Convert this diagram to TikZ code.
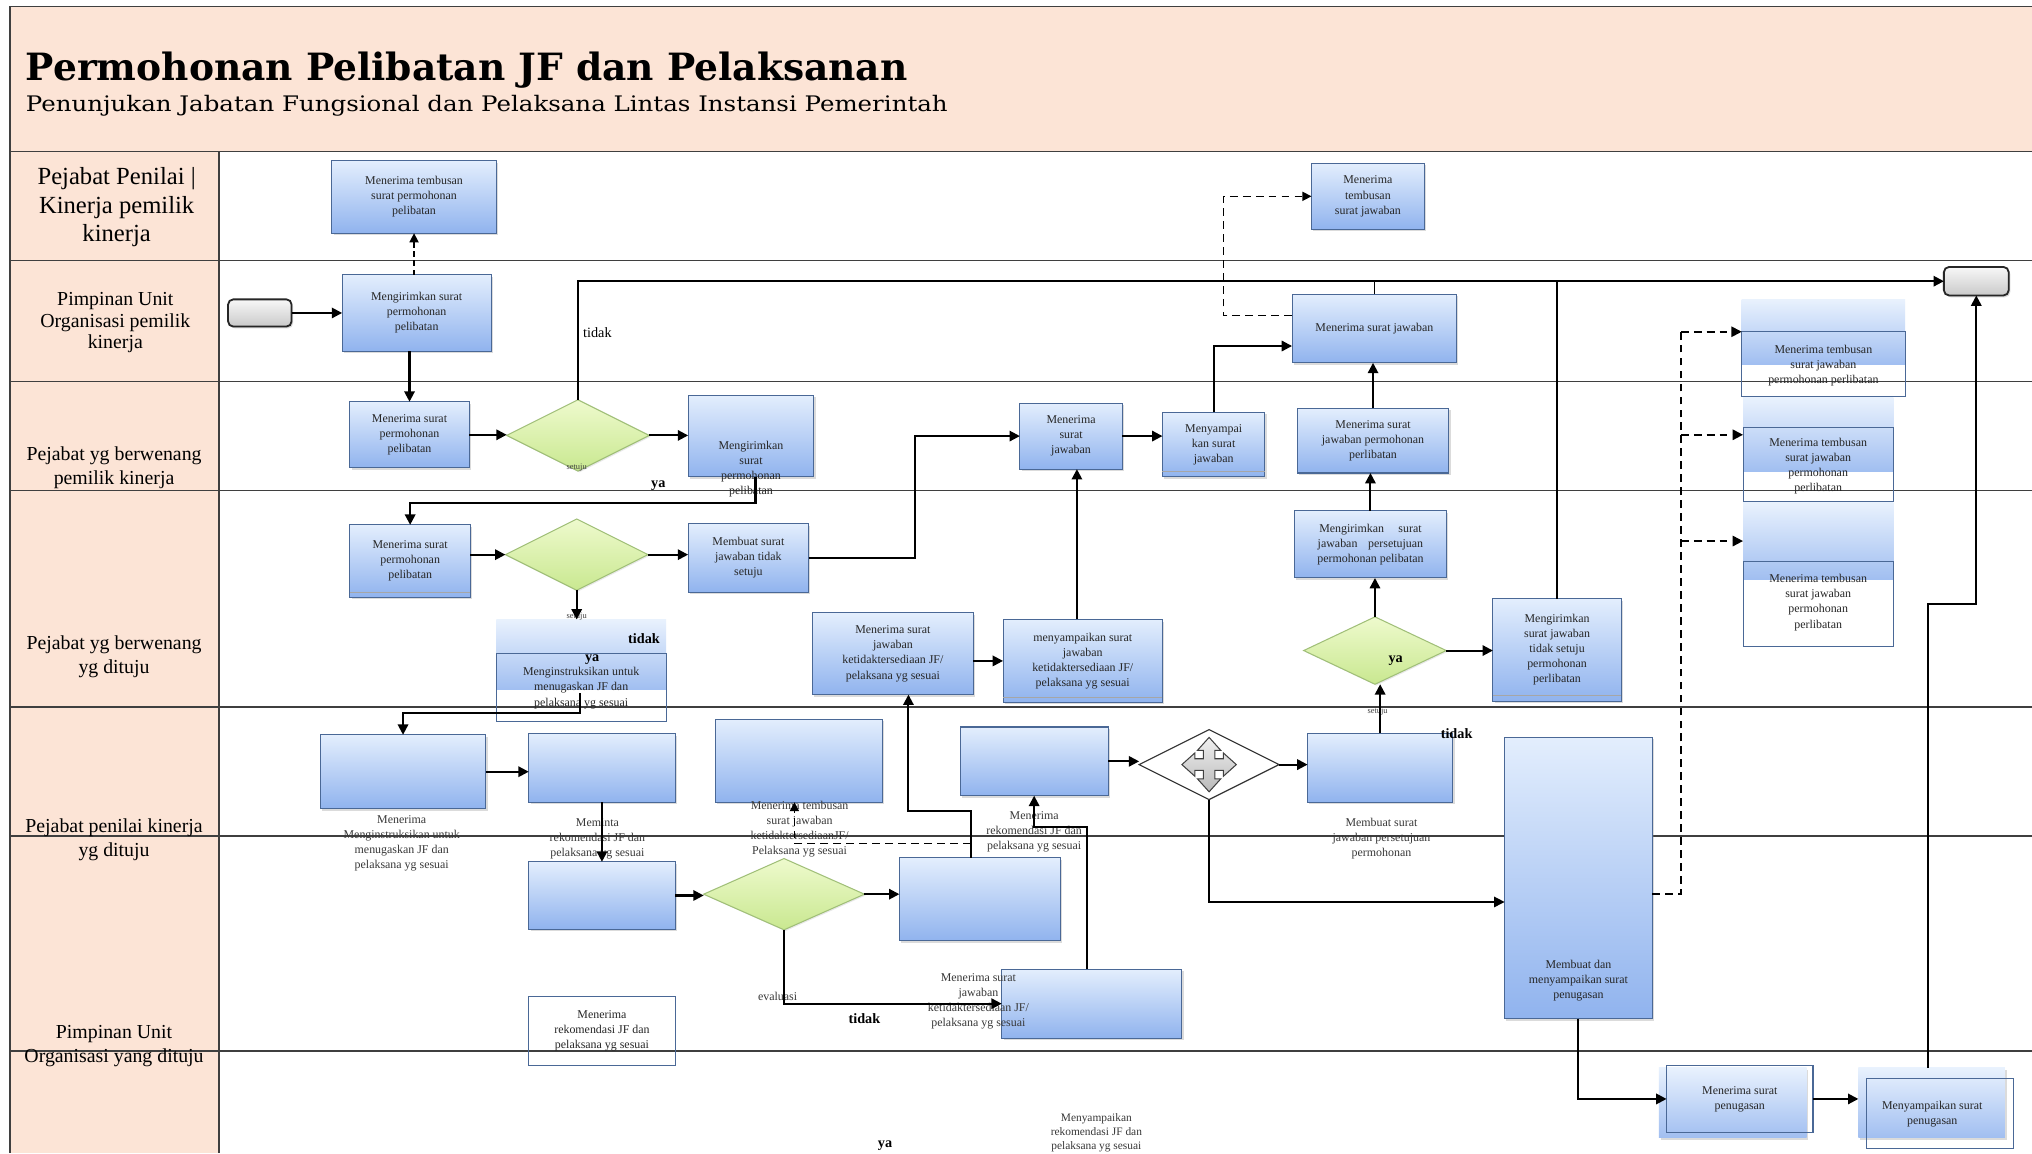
\documentclass[tikz,border=0pt]{standalone}
\usepackage{fontspec}
\setmainfont{Liberation Serif}
\newfontfamily\headfont{DejaVu Serif}
\usetikzlibrary{arrows.meta,shadows,shapes.geometric}

\definecolor{peach}{HTML}{FCE4D6}
\definecolor{rule}{HTML}{3F3F3F}
\definecolor{boxtop}{HTML}{E3EEFD}
\definecolor{boxbot}{HTML}{90B3EE}
\definecolor{boxedge}{HTML}{4A6896}
\definecolor{dectop}{HTML}{EEFACD}
\definecolor{decbot}{HTML}{C9E890}
\definecolor{decedge}{HTML}{A0BF78}
\definecolor{ink}{HTML}{262626}

\tikzset{
  every node/.style={inner sep=0pt, outer sep=0pt, text=ink},
  sz/.style 2 args={minimum width=#1, minimum height=#2},
  txt/.style={font=\fontsize{9.2}{11.6}\selectfont, align=center},
  task/.style={txt, draw=boxedge, line width=0.8pt, top color=boxtop, bottom color=boxbot,
    drop shadow={shadow xshift=1.4pt, shadow yshift=-1.6pt, opacity=0.28}},
  glow/.style={top color=boxtop!80!white, bottom color=boxbot!85!white},
  openbox/.style={draw=boxedge, line width=0.8pt},
  decision/.style={diamond, draw=decedge, line width=0.8pt, top color=dectop, bottom color=decbot,
    drop shadow={shadow xshift=1pt, shadow yshift=-1pt, opacity=0.18}},
  gateway/.style={diamond, draw=black!80, line width=0.9pt, fill=white},
  term/.style={draw=black!85, line width=1.4pt, rounded corners=4pt, top color=gray!6, bottom color=gray!42,
    drop shadow={shadow xshift=1.2pt, shadow yshift=-1.4pt, opacity=0.3}},
  lane/.style={font=\fontsize{15.3}{18.5}\selectfont, align=center, text=black},
  note/.style={font=\fontsize{9.2}{11.6}\selectfont, align=center, text=black!78},
  tag/.style={font=\fontsize{11}{12}\selectfont\bfseries, text=black},
  smalltag/.style={font=\fontsize{6.5}{7}\selectfont, text=black!75},
  flow/.style={line width=1.6pt, draw=black, -{Triangle[length=8pt,width=8pt]}},
  link/.style={line width=1.1pt, draw=black},
  cc/.style={line width=1.4pt, draw=black, dash pattern=on 6pt off 4pt},
  ccarrow/.style={cc, -{Triangle[length=8pt,width=8pt]}},
}

\begin{document}
\begin{tikzpicture}[x=1pt,y=-1pt]
\useasboundingbox (0,0) rectangle (1568,890);
\clip (0,0) rectangle (1568,890);
\fill[white] (0,0) rectangle (1568,890);

% header band, lane label column and lane separators
\fill[peach] (8,5) rectangle (1568,117);
\fill[peach] (8,117) rectangle (169,890);
\draw[rule, line width=1.4pt] (8,5) -- (1568,5);
\draw[rule, line width=1.4pt] (8,5) -- (8,890);
\draw[rule, line width=1.2pt] (8,117) -- (1568,117);
\draw[rule, line width=1.2pt] (169,117) -- (169,890);
\foreach \y in {201,294.5,378.5,545.5,645,811}
  \draw[rule, line width=1.1pt] (8,\y) -- (1568,\y);

\node[anchor=base west, font=\headfont\bfseries\fontsize{29}{32}\selectfont, text=black] (title) at (20,62)
  {Permohonan Pelibatan JF dan Pelaksanan};
\node[anchor=base west, font=\headfont\fontsize{16.5}{18}\selectfont, text=black] (subtitle) at (20,86)
  {\scalebox{1.145}[1]{Penunjukan Jabatan Fungsional dan Pelaksana Lintas Instansi Pemerintah}};

% lane titles
\node[lane, font=\fontsize{19}{22}\selectfont] (lane1) at (90,160) {Pejabat Penilai |\\Kinerja pemilik\\kinerja};
\node[lane, font=\fontsize{15.3}{16.8}\selectfont] (lane2) at (89,249) {Pimpinan Unit\\Organisasi pemilik\\kinerja};
\node[lane] (lane3) at (88,361) {Pejabat yg berwenang\\pemilik kinerja};
\node[lane] (lane4) at (88,507) {Pejabat yg berwenang\\yg dituju};
\node[lane] (lane5) at (88,648) {Pejabat penilai kinerja\\yg dituju};
\node[lane] (lane6) at (88,807) {Pimpinan Unit\\Organisasi yang dituju};

% lane 1
\node[task, sz={127pt}{56pt}] (n1) at (319.5,152) {Menerima tembusan\\surat permohonan\\pelibatan};
\node[task, sz={87pt}{51pt}] (n2) at (1055.5,151.5) {Menerima\\tembusan\\surat jawaban};

% lane 2
\node[term, sz={49pt}{21pt}] (start) at (200.5,241.5) {};
\node[task, sz={115pt}{59pt}] (n3) at (321.5,241.5) {Mengirimkan surat\\permohonan\\pelibatan};
\node[task, sz={127pt}{53pt}] (n4) at (1060.5,253.5) {Menerima surat jawaban};
\node[term, sz={50pt}{22pt}] (stop) at (1525,217) {};

% lane 3
\node[task, sz={92pt}{51pt}] (n5) at (316,335.5) {Menerima surat\\permohonan\\pelibatan};
\node[decision, sz={110pt}{55pt}] (d1) at (446,336) {};
\node[task, sz={97pt}{63pt}] (n6) at (579.5,336.5) {};
\node[txt] (n6t) at (579.5,362) {Mengirimkan\\surat\\permohonan\\pelibatan};
\node[task, sz={79pt}{51pt}] (n7) at (826.5,336.5) {Menerima\\surat\\jawaban};
\node[task, sz={79pt}{50pt}] (n8) at (936.5,343) {Menyampai\\kan surat\\jawaban};
\node[task, sz={117pt}{50pt}] (n9) at (1059.5,340) {Menerima surat\\jawaban permohonan\\perlibatan};

% lane 4
\node[task, sz={93pt}{56pt}] (n10) at (316.5,433) {Menerima surat\\permohonan\\pelibatan};
\node[decision, sz={110pt}{55pt}] (d2) at (445,428) {};
\node[task, sz={93pt}{53pt}] (n11) at (577.5,430.5) {Membuat surat\\jawaban tidak\\setuju};
\node[glow, sz={131pt}{54pt}] (n14g) at (448.5,505) {};
\node[openbox, sz={131pt}{53pt}] (n14) at (448.5,530.5) {};
\node[txt] (n14t) at (448.5,531) {Menginstruksikan untuk\\menugaskan JF dan\\pelaksana yg sesuai};
\node[task, sz={124pt}{63pt}] (n18) at (689,504.5) {Menerima surat\\jawaban\\ketidaktersediaan JF/\\pelaksana yg sesuai};
\node[task, sz={123pt}{64pt}] (n13) at (835.5,510) {menyampaikan surat\\jawaban\\ketidaktersediaan JF/\\pelaksana yg sesuai};
\node[task, sz={117pt}{52pt}] (n16) at (1057.5,420) {Mengirimkan\hspace{1.2em}surat\\jawaban\hspace{0.9em}persetujuan\\permohonan pelibatan};
\node[decision, sz={110pt}{52pt}] (d3) at (1061,502) {};
\node[task, sz={99pt}{79pt}] (n12) at (1201.5,501.5) {Mengirimkan\\surat jawaban\\tidak setuju\\permohonan\\perlibatan};

% copies of the reply, right side
\node[glow, sz={126pt}{50pt}] (r1g) at (1407,256) {};
\node[openbox, sz={126pt}{50pt}] (r1) at (1407,281) {};
\node[txt] (r1t) at (1407,282) {Menerima tembusan\\surat jawaban\\permohonan perlibatan};
\node[glow, sz={116pt}{57pt}] (r2g) at (1403,335.5) {};
\node[openbox, sz={116pt}{57pt}] (r2) at (1403,358.5) {};
\node[txt] (r2t) at (1403,360) {Menerima tembusan\\surat jawaban\\permohonan\\perlibatan};
\node[glow, sz={116pt}{59pt}] (r3g) at (1403,417.5) {};
\node[openbox, sz={116pt}{66pt}] (r3) at (1403,466) {};
\node[txt] (r3t) at (1403,465) {Menerima tembusan\\surat jawaban\\permohonan\\perlibatan};

% lane 5
\node[task, sz={128pt}{57pt}] (n15) at (311,595.5) {};
\node[note] (n15t) at (310,650.5) {Menerima\\Menginstruksikan untuk\\menugaskan JF dan\\pelaksana yg sesuai};
\node[task, sz={113pt}{53pt}] (n19) at (464.5,592.5) {};
\node[note] (n19t) at (461,647) {Meminta\\rekomendasi JF dan\\pelaksana yg sesuai};
\node[task, sz={129pt}{64pt}] (n23) at (616.5,587) {};
\node[note] (n23t) at (617,640) {Menerima tembusan\\surat jawaban\\ketidaktersediaanJF/\\Pelaksana yg sesuai};
\node[task, sz={114pt}{53pt}] (n24) at (798,587.5) {};
\node[note] (n24t) at (798,642) {Menerima\\rekomendasi JF dan\\pelaksana yg sesuai};
\node[gateway, sz={108pt}{54pt}] (gw) at (933,590) {};
\node[task, sz={112pt}{53pt}] (n17) at (1065,592.5) {};
\node[note] (n17t) at (1066,647) {Membuat surat\\jawaban persetujuan\\permohonan};
\node[task, sz={114pt}{217pt}] (n26) at (1218,677.5) {};
\node[txt] (n26t) at (1218,757) {Membuat dan\\menyampaikan surat\\penugasan};

% gateway marker
\draw[draw=black!75, line width=0.8pt, top color=gray!12, bottom color=gray!55, shift={(gw.center)}]
  (4.5,4.5) -- (4.5,11) -- (9,11) -- (0,21) -- (-9,11) -- (-4.5,11) -- (-4.5,4.5) -- (-11,4.5)
  -- (-11,9) -- (-21,0) -- (-11,-9) -- (-11,-4.5) -- (-4.5,-4.5) -- (-4.5,-11) -- (-9,-11)
  -- (0,-21) -- (9,-11) -- (4.5,-11) -- (4.5,-4.5) -- (11,-4.5) -- (11,-9) -- (21,0) -- (11,9)
  -- (11,4.5) -- cycle;

% lane 6
\node[task, sz={113pt}{52pt}] (n20) at (464.5,691) {};
\node[decision, sz={124pt}{55pt}] (d4) at (605,690) {};
\node[task, sz={124pt}{64pt}] (n22) at (756,694) {};
\node[task, sz={139pt}{53pt}] (n25) at (842.5,774.5) {};
\node[note] (n25t) at (755,773) {Menerima surat\\jawaban\\ketidaktersediaan JF/\\pelaksana yg sesuai};
\node[openbox, txt, sz={113pt}{53pt}] (n21) at (464.5,795.5) {Menerima\\rekomendasi JF dan\\pelaksana yg sesuai};

% lane 7
\node[glow, sz={114pt}{54pt}, drop shadow={shadow xshift=1.4pt, shadow yshift=-1.6pt, opacity=0.28}] (n27g) at (1337,851) {};
\node[openbox, txt, sz={113pt}{52pt}] (n27) at (1342.5,848) {Menerima surat\\penugasan};
\node[glow, sz={113pt}{54pt}, drop shadow={shadow xshift=1.4pt, shadow yshift=-1.6pt, opacity=0.28}] (n28g) at (1490.5,851) {};
\node[openbox, sz={114pt}{54pt}] (n28) at (1497,859) {};
\node[txt] (n28t) at (1491,860) {Menyampaikan surat\\penugasan};
\node[note, font=\fontsize{8.8}{10.8}\selectfont] (n29t) at (846,874) {Menyampaikan\\rekomendasi JF dan\\pelaksana yg sesuai};

% double bottom edges
\foreach \b in {n8,n10,n12,n13}
  \draw[gray!70, line width=0.8pt] ([yshift=4pt]\b.south west) -- ([yshift=4pt]\b.south east);

% branch labels
\node[font=\fontsize{11}{12}\selectfont, text=black] (t1) at (461,257) {tidak};
\node[tag] (t2) at (508,375) {ya};
\node[smalltag] (s1) at (445,361) {setuju};
\node[smalltag] (s2) at (445,476) {setuju};
\node[tag] (t3) at (497,493) {tidak};
\node[tag] (t4) at (457,509) {ya};
\node[tag] (t5) at (1077,510) {ya};
\node[smalltag] (s3) at (1063,549) {setuju};
\node[tag] (t6) at (1124,566) {tidak};
\node[note] (s4) at (600,769) {evaluasi};
\node[tag] (t7) at (667,786) {tidak};
\node[tag] (t8) at (683,884) {ya};

% routing points
\coordinate (xa) at (944,0);
\coordinate (xb) at (706,0);
\coordinate (xd) at (1297,0);
\coordinate (ya) at (0,388);
\coordinate (yb) at (0,550);
\coordinate (yc) at (0,626);
\coordinate (yd) at (0,638);
\coordinate (ye) at (0,466);
\coordinate (k1) at ([xshift=12pt]n18.south);

% connectors
\draw[flow] (start.east) -- (n3.west);
\draw[cc, line width=1.2pt, dash pattern=on 4pt off 3pt, -{Triangle[length=7pt,width=7pt]}] (n1.south |- n3.north) -- (n1.south);
\draw[flow] (n5.north |- n3.south) -- (n5.north);
\draw[flow] (n5.east) -- (n5.east -| d1.west);
\draw[flow] (d1.east) -- (d1.east -| n6.west);
\draw[flow] (d1.north) |- (stop.west);
\draw[link] (n4.north) -- (n4.north |- stop.west);
\draw[link] (n12.north) -- (n12.north |- stop.west);
\draw[cc, line width=1.1pt, -{Triangle[length=7pt,width=7pt]}] ([yshift=10pt]n4.west) -| (xa |- n2.west) -- (n2.west);
\draw[flow] ([xshift=3.5pt]n6.south) |- (n10.north |- ya) -- (n10.north);
\draw[flow] (d2.west -| n10.east) -- (d2.west);
\draw[flow] (d2.east) -- (d2.east -| n11.west);
\draw[flow] (d2.south) -- (d2.south |- n14g.north);
\draw[flow] ([xshift=-1pt,yshift=-4.5pt]n14.center) |- (n15.north |- yb) -- (n15.north);
\draw[flow] (n11.east) -| (xb |- n7.west) -- (n7.west);
\draw[flow] (n7.east) -- (n7.east -| n8.west);
\draw[flow] (n8.north) |- ([yshift=-13.5pt]n4.west);
\draw[flow] (n9.north) -- (n9.north |- n4.south);
\draw[flow] (n16.north) -- (n16.north |- n9.south);
\draw[flow] (d3.north) -- (d3.north |- n16.south);
\draw[flow] (d3.east) -- (d3.east -| n12.west);
\draw[flow] (n17.north) -- (n17.north |- d3.south);
\draw[flow] ([xshift=-4.5pt]n13.north) -- ([xshift=4.5pt]n7.south);
\draw[flow] (n18.east |- n13.west) -- (n13.west);
\draw[flow] (n15.east) -- (n15.east -| n19.west);
\draw[flow] (n19.south) -- (n19.south |- n20.north);
\draw[flow] (n20.east) -- (n20.east -| d4.west);
\draw[flow] (d4.east) -- (d4.east -| n22.west);
\draw[flow] ([xshift=-7pt]n22.north) |- (k1 |- yc) -- (k1);
\draw[cc, line width=1.2pt, -{Triangle[length=7pt,width=7pt]}] ([xshift=-7pt,yshift=11pt]n22.north) -| ([xshift=-3.5pt]n23.south);
\draw[flow] (d4.south) |- (n25.west);
\draw[flow] ([xshift=-3.5pt]n25.north) |- (n24.south |- yd) -- (n24.south);
\draw[flow] (n24.east) -- (n24.east -| gw.west);
\draw[flow] (gw.east) -- (gw.east -| n17.west);
\draw[link, -{Triangle[length=8pt,width=8pt]}] (gw.south) |- ([yshift=-18.5pt]n26.west);
\draw[flow] (n26.south) |- (n27.west);
\draw[flow] (n27.east) -- (n27.east -| n28g.west);
\draw[flow] ([xshift=-2.5pt]n28g.north) |- (stop.south |- ye) -- (stop.south);
\draw[cc] ([yshift=-12.5pt]n26.east) -| (xd |- r1g.west);
\draw[ccarrow] (xd |- r1g.west) -- (r1g.west);
\draw[ccarrow] (xd |- r2g.west) -- (r2g.west);
\draw[ccarrow] (xd |- r3g.west) -- (r3g.west);
\end{tikzpicture}
\end{document}
